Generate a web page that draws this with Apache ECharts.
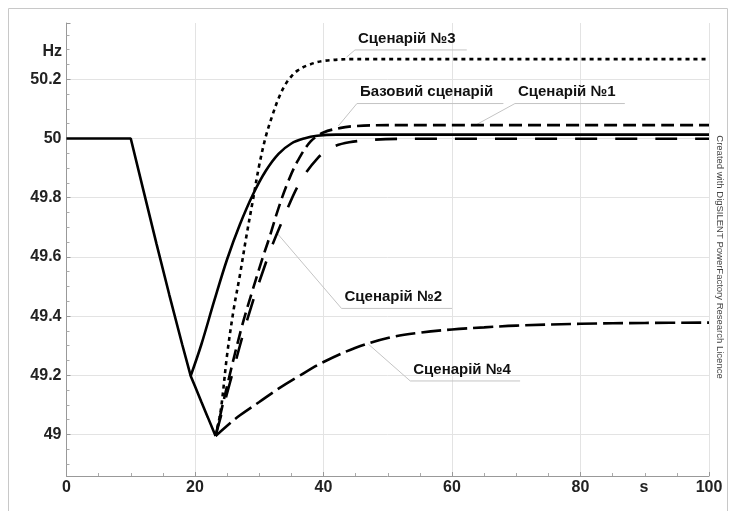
<!DOCTYPE html>
<html>
<head>
<meta charset="utf-8">
<script src="https://cdn.jsdelivr.net/npm/echarts@6/dist/echarts.min.js"></script>
<style>
    html, body { margin: 0; padding: 0; background: #fff; }
    #chart { width: 734px; height: 511px; }
</style>
</head>
<body>
<div id="chart"></div>
<script>
    // common path: steady state and frequency drop (shared by all cases)
    var dropT = [0, 10, 12, 14, 16, 18, 19.33, 20, 21, 22, 23.2];
    var dropF = [50, 50, 49.822, 49.645, 49.472, 49.305, 49.198, 49.163, 49.11, 49.058, 48.995];

    // Базовий сценарій
    var baseT = [19.33, 21, 23, 25, 27, 29, 31, 33, 35, 37, 39, 42, 100];
    var baseF = [49.198, 49.305, 49.452, 49.592, 49.71, 49.81, 49.89, 49.948, 49.983, 50.0, 50.009, 50.013, 50.013];

    // Сценарій №1
    var s1T = [23.2, 25, 27.3, 29, 30.5, 31.5, 33, 34.5, 36, 38, 40, 42.5, 45, 50, 100];
    var s1F = [48.995, 49.165, 49.365, 49.49, 49.595, 49.66, 49.765, 49.855, 49.925, 49.99, 50.02, 50.035, 50.042, 50.045, 50.045];

    // Сценарій №2
    var s2T = [23.2, 25.5, 28.3, 31.4, 33.7, 36.3, 39.2, 41.3, 44, 48, 55, 100];
    var s2F = [48.995, 49.18, 49.4, 49.603, 49.727, 49.851, 49.936, 49.97, 49.987, 49.996, 49.999, 49.999];

    // Сценарій №3
    var s3T = [23.2, 24, 25, 26, 27, 28, 29, 30, 31, 32, 33, 34, 35, 36, 37.5, 40, 45, 100];
    var s3F = [48.995, 49.08, 49.27, 49.42, 49.54, 49.67, 49.79, 49.91, 50.005, 50.075, 50.135, 50.18, 50.21, 50.23, 50.247, 50.262, 50.268, 50.268];

    // Сценарій №4
    var s4T = [23.2, 25, 27, 30, 33, 36, 40, 45, 50, 55, 60, 65, 70, 80, 90, 100];
    var s4F = [48.995, 49.03, 49.065, 49.11, 49.155, 49.195, 49.245, 49.293, 49.326, 49.344, 49.355, 49.362, 49.368, 49.374, 49.377, 49.378];

    // callouts: text, underline ends and leader tip (data units)
    var callouts = [
        { text: 'Сценарій №3', from: [44.9, 50.299], to: [62.3, 50.299], tip: [43.6, 50.275] },
        { text: 'Базовий сценарій', from: [45.2, 50.118], to: [68.0, 50.118], tip: [42.3, 50.042] },
        { text: 'Сценарій №1', from: [69.8, 50.118], to: [86.9, 50.118], tip: [63.9, 50.048] },
        { text: 'Сценарій №2', from: [42.8, 49.426], to: [60.0, 49.426], tip: [32.7, 49.682] },
        { text: 'Сценарій №4', from: [53.5, 49.181], to: [70.6, 49.181], tip: [47.0, 49.305] }
    ];

    function zip(t, f) {
        var out = [];
        for (var i = 0; i < t.length; i++) {
            out.push([t[i], f[i]]);
        }
        return out;
    }

    var font = 'Liberation Sans, Arial, sans-serif';

    function curve(name, t, f, dash, smooth) {
        return {
            name: name,
            type: 'line',
            data: zip(t, f),
            symbol: 'none',
            smooth: smooth,
            lineStyle: { color: '#000', width: 2.6, type: dash },
            z: 3
        };
    }

    var chart = echarts.init(document.getElementById('chart'));
    var option = {
        animation: false,
        grid: { left: 66.5, right: 25, top: 23, bottom: 35 },
        xAxis: {
            type: 'value',
            min: 0,
            max: 100,
            interval: 20,
            axisLine: { lineStyle: { color: '#999', width: 1 } },
            axisTick: { show: true, inside: true, length: 4, lineStyle: { color: '#999' } },
            minorTick: { show: true, splitNumber: 4, length: 3, lineStyle: { color: '#aaa' } },
            splitLine: { show: true, lineStyle: { color: '#e3e3e3', width: 1 } },
            axisLabel: { color: '#222', fontFamily: font, fontWeight: 'bold', fontSize: 16, margin: 4 }
        },
        yAxis: {
            type: 'value',
            min: 48.86,
            max: 50.39,
            splitNumber: 7,
            minInterval: 0.2,
            maxInterval: 0.2,
            axisLine: { show: true, lineStyle: { color: '#999', width: 1 } },
            axisTick: { show: true, inside: true, length: 4, lineStyle: { color: '#999' } },
            minorTick: { show: true, splitNumber: 4, length: 3, lineStyle: { color: '#aaa' } },
            splitLine: { show: true, showMinLine: false, showMaxLine: false, lineStyle: { color: '#e3e3e3', width: 1 } },
            axisLabel: {
                color: '#222', fontFamily: font, fontWeight: 'bold', fontSize: 16, margin: 5,
                formatter: function (v) {
                    var k = v / 0.2;
                    if (Math.abs(k - Math.round(k)) > 1e-6) return '';
                    return String(+v.toFixed(2));
                }
            }
        },
        series: [
            curve('drop', dropT, dropF, 'solid', false),
            curve('Базовий сценарій', baseT, baseF, 'solid', 0.35),
            curve('Сценарій №1', s1T, s1F, [13, 6], 0.35),
            curve('Сценарій №2', s2T, s2F, [22, 18], 0.35),
            curve('Сценарій №3', s3T, s3F, [4, 4], 0.35),
            curve('Сценарій №4', s4T, s4F, [20, 6], 0.35)
        ]
    };
    chart.setOption(option);

    // annotations drawn after the grid is laid out
    var graphics = [
        {
            type: 'rect', silent: true,
            shape: { x: 8.5, y: 8.5, width: 719, height: 540 },
            style: { fill: 'none', stroke: '#c8c8c8', lineWidth: 1 }
        },
        {
            type: 'text', silent: true, x: 62, y: 52,
            style: { text: 'Hz', font: 'bold 16px ' + font, fill: '#222', align: 'right', verticalAlign: 'middle' }
        },
        {
            type: 'text', silent: true, x: 644, y: 488,
            style: { text: 's', font: 'bold 16px ' + font, fill: '#222', align: 'center', verticalAlign: 'middle' }
        },
        {
            type: 'text', silent: true, x: 720, y: 257, rotation: -Math.PI / 2,
            style: {
                text: 'Created with DigSILENT PowerFactory Research Licence',
                font: '9.5px ' + font, fill: '#444', align: 'center', verticalAlign: 'middle'
            }
        }
    ];

    callouts.forEach(function (c) {
        var a = chart.convertToPixel({ gridIndex: 0 }, c.from);
        var b = chart.convertToPixel({ gridIndex: 0 }, c.to);
        var p = chart.convertToPixel({ gridIndex: 0 }, c.tip);
        graphics.push({
            type: 'polyline', silent: true, z: 2,
            shape: { points: [p, a, b] },
            style: { fill: 'none', stroke: '#c4c4c4', lineWidth: 1 }
        });
        graphics.push({
            type: 'text', silent: true, z: 4,
            x: a[0] + 3, y: a[1] - 11.5,
            style: { text: c.text, font: 'bold 15px ' + font, fill: '#111', align: 'left', verticalAlign: 'middle' }
        });
    });

    chart.setOption({ graphic: graphics });
</script>
</body>
</html>
